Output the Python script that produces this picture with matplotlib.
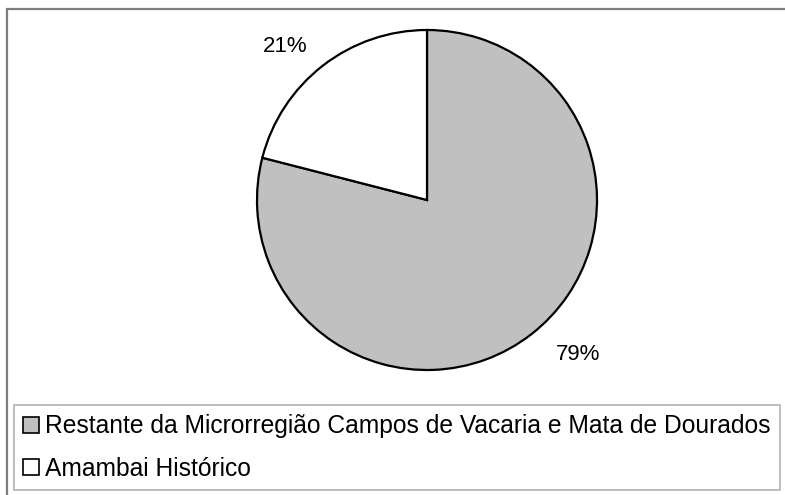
import matplotlib
matplotlib.use("Agg")
import matplotlib.pyplot as plt
from matplotlib.patches import Rectangle, Patch

plt.rcParams['font.family'] = ['Liberation Sans', 'DejaVu Sans']

categories = ["Restante da Microrregião Campos de Vacaria e Mata de Dourados", "Amambai Histórico"]
values = [79, 21]
labels = ["79%", "21%"]
colors = ["#c0c0c0", "#ffffff"]

W, H = 785, 495
fig = plt.figure(figsize=(W / 100, H / 100), dpi=100)

# outer frame
fig.patches.append(Rectangle((7 / W, -0.05), 1.0, 1 - 9 / H + 0.05, transform=fig.transFigure,
                             fill=False, edgecolor="#7f7f7f", linewidth=1.6, zorder=0))

cx, cy, r = 427, 200, 170
ax = fig.add_axes([(cx - r) / W, (H - cy - r) / H, 2 * r / W, 2 * r / H])
wedges, _ = ax.pie(values, colors=colors, startangle=90, counterclock=False,
                   wedgeprops=dict(edgecolor="black", linewidth=1.6))
ax.set_xlim(-1, 1)
ax.set_ylim(-1, 1)
ax.set_aspect("equal")
ax.set_axis_off()

# percentage labels, positioned outside the slices
label_pos = [(0.89, -0.91), (-0.835, 0.90)]
for lab, (lx, ly) in zip(labels, label_pos):
    ax.text(lx, ly, lab, ha="center", va="center", fontsize=16, color="black", clip_on=False)

handles = [Patch(facecolor=c, edgecolor="black", linewidth=1.2) for c in colors]
leg = fig.legend(handles, categories, loc="upper left",
                 bbox_to_anchor=(14 / W, 1 - 405 / H), frameon=True, fancybox=False,
                 fontsize=17.7, handlelength=0.62, handleheight=0.62, handletextpad=0.28,
                 labelspacing=0.75, borderpad=0.38, borderaxespad=0)
leg.get_frame().set_edgecolor("#a0a0a0")
leg.get_frame().set_linewidth(1.2)

fig.savefig("out.png", dpi=100)
